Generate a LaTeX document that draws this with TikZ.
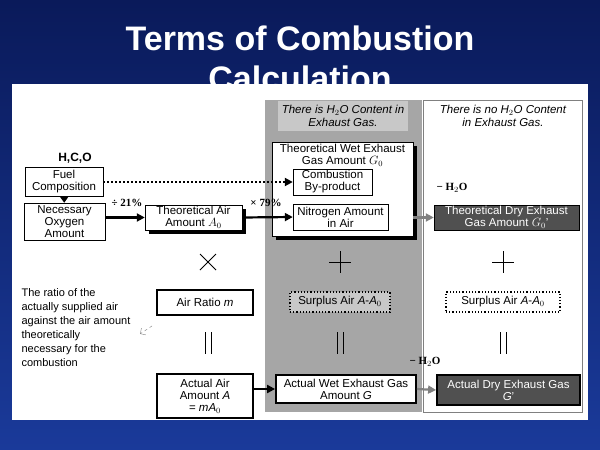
\documentclass[tikz,border=0pt]{standalone}
\usepackage{fontspec}
\setmainfont{Liberation Sans}
\newfontfamily\serifb{Liberation Serif}
\usetikzlibrary{arrows.meta,shadows}
\definecolor{bgtop}{HTML}{0A1A5A}
\definecolor{bgbot}{HTML}{1A3A9A}
\definecolor{midgray}{HTML}{A6A6A6}
\definecolor{lightgray}{HTML}{C8C8C8}
\definecolor{darkbox}{HTML}{505050}
\tikzset{
  fs/.style={font=\fontsize{11.5}{12}\selectfont},
  bx/.style={draw,fill=white,align=center,fs,inner sep=1pt},
  shad/.style={bx,drop shadow={shadow xshift=4pt,shadow yshift=-4pt,opacity=1,fill=black}},
  darkbx/.style={bx,fill=darkbox,text=white,draw=black},
  thickbx/.style={bx,line width=1.8pt},
  dotbx/.style={bx,dotted,line width=1.2pt},
  lab/.style={fs,align=center},
  symline/.style={line width=0.9pt},
  arr/.style={-{Triangle[length=8pt,width=8pt]},line width=2.2pt},
  garr/.style={-{Triangle[length=8pt,width=8pt]},line width=2.2pt,draw=gray},
}
\begin{document}
\begin{tikzpicture}[x=1pt,y=-1pt]
\useasboundingbox (0,0) rectangle (600,450);
\shade[top color=bgtop,bottom color=bgbot] (0,0) rectangle (600,450);
\node[text=white,font=\bfseries\fontsize{34}{36}\selectfont] (title) at (300,38) {Terms of Combustion};
\node[text=white,font=\bfseries\fontsize{34}{36}\selectfont] (title2) at (300,78) {Calculation};
\fill[white] (12,84) rectangle (588,420);
\fill[midgray] (265,100) rectangle (422,412);
\draw[gray] (423,100) rectangle (582,412);
\node[fill=lightgray,lab,font=\itshape\fontsize{11.5}{12.5}\selectfont,minimum width=130pt,minimum height=30pt,inner sep=1pt] (lh) at (343,116) {There is H$_2$O Content in\\Exhaust Gas.};
\node[lab,font=\itshape\fontsize{11.5}{12.5}\selectfont] (rh) at (503,116) {There is no H$_2$O Content\\in Exhaust Gas.};

\node[font=\bfseries\fontsize{12}{12}\selectfont] (hco) at (75,158) {H,C,O};
\node[bx,minimum width=78pt,minimum height=29pt] (fuel) at (64,182) {Fuel\\Composition};
\node[bx,minimum width=81pt,minimum height=37pt] (oxy) at (64.5,221.5) {Necessary\\Oxygen\\Amount};
\node[shad,minimum width=97pt,minimum height=25pt] (air) at (193.5,217.5) {Theoretical Air\\Amount $A_0$};
\node[shad,minimum width=141pt,minimum height=94pt] (wet) at (342.5,189) {};
\node[lab,anchor=north,inner sep=1pt] (wett) at (342.5,143) {Theoretical Wet Exhaust\\Gas Amount $G_0$};
\node[bx,minimum width=79pt,minimum height=26pt] (comb) at (332.5,182) {Combustion\\By-product};
\node[bx,minimum width=95pt,minimum height=26pt] (nit) at (340.5,217) {Nitrogen Amount\\in Air};
\node[darkbx,minimum width=145pt,minimum height=25pt] (tdry) at (506.5,217.5) {Theoretical Dry Exhaust\\Gas Amount $G_0$'};

\node[font=\serifb\bfseries\fontsize{11}{11}\selectfont] (d21) at (127,203) {÷ 21\%};
\node[font=\serifb\bfseries\fontsize{11}{11}\selectfont] (m79) at (266,203) {× 79\%};
\node[font=\serifb\bfseries\fontsize{11}{11}\selectfont] (h2o1) at (452,188) {− H$_2$O};
\node[font=\serifb\bfseries\fontsize{11}{11}\selectfont] (h2o2) at (425,362) {− H$_2$O};

\draw[symline] (200,254) -- (216,270) (200,270) -- (216,254);
\foreach \cx in {340,503} \draw[symline] (\cx-11,262) -- (\cx+11,262) (\cx,251) -- (\cx,273);
\foreach \cx in {208,340,503} \draw[symline] (\cx-3,332) -- (\cx-3,354) (\cx+3,332) -- (\cx+3,354);

\node[lab,align=left,anchor=north west,font=\fontsize{11}{14}\selectfont] (txt) at (18,285) {The ratio of the\\actually supplied air\\against the air amount\\theoretically\\necessary for the\\combustion};
\node[thickbx,minimum width=96pt,minimum height=25pt] (ratio) at (205,302.5) {Air Ratio \textit{m}};
\node[dotbx,fill=lightgray,minimum width=100pt,minimum height=20pt] (sur1) at (340,302) {Surplus Air \textit{A}-\textit{A}$_0$};
\node[dotbx,minimum width=114pt,minimum height=20pt] (sur2) at (503,302) {Surplus Air \textit{A}-\textit{A}$_0$};
\node[thickbx,minimum width=96pt,minimum height=44pt] (act) at (205,396) {Actual Air\\Amount \textit{A}\\= \textit{mA}$_0$};
\node[thickbx,minimum width=140pt,minimum height=28pt] (awet) at (346,389) {Actual Wet Exhaust Gas\\Amount \textit{G}};
\node[darkbx,line width=1.8pt,minimum width=143pt,minimum height=30pt] (adry) at (508.5,390) {Actual Dry Exhaust Gas\\\textit{G}'};

\draw[-{Triangle[length=6pt,width=8pt]},line width=2pt] (fuel) -- (oxy);
\draw[-{Triangle[length=8pt,width=8pt]},line width=2pt,dotted] (fuel.east) -- (comb.west|-fuel.east);
\draw[arr] (oxy.east|-air) -- (air.west);
\draw[arr] (air.east) -- (nit.west);
\draw[garr] (wet.east|-tdry) -- (tdry.west);
\draw[arr] (act.east|-awet) -- (awet.west);
\draw[garr] (awet.east) -- (adry.west);
\draw[gray,dashed,-{Straight Barb[length=4pt]}] (ratio.south west) ++(-4,10) coordinate (c1) -- ++(-12,8) coordinate (c2);
\end{tikzpicture}
\end{document}
